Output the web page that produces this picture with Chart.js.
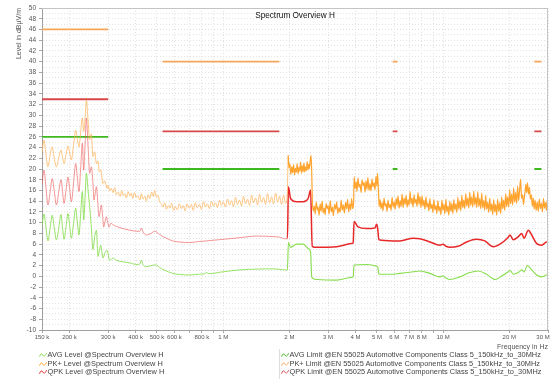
<!DOCTYPE html>
<html>
<head>
<meta charset="utf-8">
<script src="https://cdn.jsdelivr.net/npm/chart.js@4/dist/chart.umd.min.js"></script>
<style>
html,body{margin:0;padding:0;background:#fff;}
#wrap{position:relative;width:552px;height:387px;overflow:hidden;background:#fff;}
#c{position:absolute;left:0;top:0;}
.leg{position:absolute;font:7.4px "Liberation Sans",Arial,sans-serif;color:#444;white-space:nowrap;}
.leg div{height:8.6px;line-height:8.6px;display:flex;align-items:center;}
.leg svg{margin-right:0.5px;flex:none;}
#sep{position:absolute;left:279px;top:349px;width:1px;height:30px;background:#dedede;}
</style>
</head>
<body>
<div id="wrap">
  <canvas id="c" width="552" height="387"></canvas>
  <div id="legL" class="leg" style="left:39px;top:351px"></div>
  <div id="sep"></div>
  <div id="legR" class="leg" style="left:281px;top:351px"></div>
</div>
<script>
// ---- axis ticks (frequency in MHz) ----
const freqTicks = [0.15, 0.2, 0.3, 0.4, 0.5, 0.6, 0.7, 0.8, 0.9, 1, 2, 3, 4, 5, 6, 7, 8, 9, 10, 20, 30];
const freqTickLabels = ['150 k', '200 k', '300 k', '400 k', '500 k', '600 k', '', '800 k', '', '1 M',
  '2 M', '3 M', '4 M', '5 M', '6 M', '7 M', '8 M', '', '10 M', '20 M', '30 M\u2007\u2007\u2007'];

const chartTitle = 'Spectrum Overview H';
const seriesNames = [
  'AVG Level @Spectrum Overview H',
  'PK+ Level @Spectrum Overview H',
  'QPK Level @Spectrum Overview H',
  'AVG Limit @EN 55025 Automotive Components Class 5_150kHz_to_30MHz',
  'PK+ Limit @EN 55025 Automotive Components Class 5_150kHz_to_30MHz',
  'QPK Limit @EN 55025 Automotive Components Class 5_150kHz_to_30MHz'
];

// ---- limit bands (MHz) and levels (dBµV/m) ----
const limitBandsMHz = [[0.15, 0.30], [0.53, 1.8], [5.9, 6.2], [26, 28]];
const avgLimit = [26, 20, 20, 20];
const pkLimit = [46, 40, 40, 40];
const qpkLimit = [33, 27, 27, 27];

// ---- measured levels: [frequency MHz, level dBµV/m] ----
const avgLevel = [
  [0.1500, 9.6], [0.1532, 11.6], [0.1560, 9.4], [0.1597, 6.6], [0.1632, 8.9], [0.1669, 11.4], [0.1705, 9.1],
  [0.1744, 6.8], [0.1788, 9.0], [0.1831, 11.5], [0.1860, 9.1], [0.1889, 6.9], [0.1930, 9.3], [0.1968, 11.7],
  [0.2005, 9.4], [0.2040, 7.1], [0.2088, 9.9], [0.2134, 12.7], [0.2172, 10.1], [0.2209, 7.7], [0.2250, 11.8],
  [0.2289, 15.8], [0.2321, 10.5], [0.2355, 14.8], [0.2388, 19.2], [0.2430, 16.0], [0.2471, 13.0], [0.2516, 9.0],
  [0.2558, 5.0], [0.2604, 7.4], [0.2651, 8.6], [0.2696, 3.7], [0.2733, 4.8], [0.2773, 5.8], [0.2841, 3.4],
  [0.2892, 4.2], [0.2963, 4.9], [0.3047, 3.0], [0.3155, 3.4], [0.3269, 3.0], [0.3503, 2.7], [0.3756, 2.5],
  [0.4050, 2.2], [0.4180, 2.3], [0.4246, 3.0], [0.4318, 2.2], [0.4474, 1.8], [0.4700, 2.0], [0.4881, 2.1],
  [0.4969, 2.1], [0.5143, 1.6], [0.5325, 1.3], [0.5518, 1.0], [0.5894, 0.55], [0.6323, 0.35], [0.702, 0.25],
  [0.781, 0.4], [0.820, 0.45], [0.838, 0.7], [0.860, 0.5], [1.0, 0.85], [1.191, 1.2], [1.419, 1.35],
  [1.630, 1.4], [1.811, 1.3], [1.908, 1.2], [1.960, 1.2], [1.980, 6.3], [2.025, 5.4], [2.157, 6.0],
  [2.311, 6.0], [2.435, 5.2], [2.497, 4.5], [2.530, -0.2], [2.657, -0.6], [3.276, -0.7], [3.832, -0.2],
  [3.900, -0.1], [3.938, 2.1], [4.484, 2.2], [4.984, 1.9], [5.050, 1.7], [5.106, 0.4], [5.931, 0.4],
  [6.362, 0.55], [7.315, 0.85], [7.85, 1.0], [8.712, 0.55], [9.67, -0.1], [10.0, 0.1], [10.2, -0.2],
  [10.74, -0.6], [11.93, -0.1], [13.24, 0.7], [14.44, 1.0], [15.77, 0.4], [17.22, -0.6], [18.47, 0.05],
  [19.79, 0.85], [20.15, 1.1], [20.86, 0.4], [21.98, 0.7], [22.78, 1.2], [23.33, 0.8], [24.15, 2.0],
  [25.29, 1.2], [26.65, 0.25], [28.08, -0.1], [29.59, 0.25], [30.0, 0.3]
];

const qpkLevel = [
  [0.1500, 17.2], [0.1532, 19.8], [0.1560, 17.0], [0.1597, 13.3], [0.1632, 15.6], [0.1669, 18.2], [0.1705, 15.9],
  [0.1744, 13.3], [0.1788, 15.8], [0.1831, 18.0], [0.1860, 15.8], [0.1889, 13.6], [0.1930, 16.1], [0.1968, 18.5],
  [0.2005, 16.2], [0.2040, 13.9], [0.2088, 17.4], [0.2134, 21.0], [0.2172, 18.4], [0.2209, 15.8], [0.2250, 20.3],
  [0.2289, 24.8], [0.2321, 19.8], [0.2355, 24.6], [0.2388, 29.5], [0.2430, 24.2], [0.2471, 19.2], [0.2516, 20.4],
  [0.2558, 17.3], [0.2585, 14.2], [0.2620, 15.5], [0.2651, 16.7], [0.2690, 13.8], [0.2724, 11.1], [0.2760, 12.2],
  [0.2793, 13.3], [0.2830, 11.2], [0.2862, 9.2], [0.2900, 10.2], [0.2943, 11.1], [0.2985, 10.1], [0.3025, 9.2],
  [0.3090, 9.9], [0.3155, 9.6], [0.3269, 9.3], [0.3503, 8.9], [0.3756, 8.6], [0.4050, 8.4], [0.4180, 8.4],
  [0.4246, 9.0], [0.4318, 8.3], [0.4474, 7.7], [0.4700, 8.0], [0.4881, 8.4], [0.5143, 7.8], [0.5325, 7.4],
  [0.5518, 7.1], [0.5894, 6.6], [0.6323, 6.4], [0.702, 6.3], [0.781, 6.5], [0.838, 6.6], [1.0, 6.9],
  [1.191, 7.2], [1.419, 7.5], [1.688, 7.4], [1.811, 7.3], [1.908, 7.0], [1.960, 7.0], [1.980, 16.7],
  [2.025, 14.5], [2.157, 13.9], [2.311, 13.9], [2.435, 14.5], [2.497, 16.1], [2.540, 5.6], [2.657, 5.4],
  [3.276, 5.5], [3.832, 6.1], [3.900, 6.2], [3.938, 10.2], [4.106, 9.2], [4.484, 8.9], [4.896, 9.0],
  [4.984, 9.7], [5.040, 9.0], [5.106, 6.8], [5.931, 6.6], [6.362, 6.6], [7.315, 7.1], [7.85, 7.0],
  [8.712, 6.4], [9.67, 5.8], [10.0, 6.0], [10.3, 5.6], [10.74, 5.4], [11.71, 5.6], [12.79, 6.4],
  [14.2, 6.9], [15.49, 6.6], [16.91, 5.5], [18.14, 6.0], [19.79, 7.3], [20.15, 7.7], [20.86, 6.8],
  [21.98, 7.4], [22.78, 8.0], [23.33, 7.1], [24.41, 8.6], [25.29, 7.7], [26.65, 6.1], [28.08, 5.8],
  [29.59, 6.4], [30.0, 6.3]
];

const pkLevel = [
  [0.1500, 23.2], [0.1532, 25.4], [0.1560, 23.0], [0.1597, 20.4], [0.1632, 22.6], [0.1669, 24.1], [0.1705, 22.0],
  [0.1744, 20.4], [0.1788, 22.1], [0.1831, 23.5], [0.1860, 22.2], [0.1889, 21.0], [0.1930, 22.7], [0.1968, 24.3],
  [0.2005, 23.0], [0.2040, 21.7], [0.2088, 24.5], [0.2134, 27.2], [0.2172, 25.5], [0.2209, 24.1], [0.2250, 27.0],
  [0.2289, 29.5], [0.2321, 27.0], [0.2355, 29.5], [0.2388, 32.8], [0.2430, 29.0], [0.2471, 25.5], [0.2516, 26.5],
  [0.2558, 22.3], [0.2604, 23.2], [0.2651, 21.0], [0.2696, 21.5], [0.2733, 19.5], [0.2773, 19.8], [0.2841, 17.3],
  [0.2892, 17.8], [0.2963, 16.4], [0.3000, 17.0], [0.3047, 15.9], [0.3100, 16.4], [0.3155, 15.6], [0.3210, 16.5],
  [0.3269, 15.2], [0.3330, 15.7], [0.3400, 14.9], [0.3460, 16.0], [0.3503, 15.1], [0.3570, 15.4], [0.3630, 14.6],
  [0.3700, 15.8], [0.3756, 15.0], [0.3820, 15.5], [0.3876, 14.5], [0.3950, 15.6], [0.4020, 14.7], [0.4100, 15.0],
  [0.4180, 14.2], [0.4246, 15.4], [0.4318, 14.4], [0.4400, 14.9], [0.4474, 14.0], [0.4560, 15.2], [0.4640, 14.5],
  [0.4730, 15.7], [0.4810, 14.9], [0.4881, 16.0], [0.4969, 14.8], [0.5050, 15.1], [0.5143, 13.9], [0.5230, 13.5],
  [0.5325, 12.9], [0.5420, 13.7], [0.5518, 12.5], [0.5620, 13.2], [0.5730, 12.7], [0.5830, 13.6], [0.5950, 12.3],
  [0.6050, 13.0], [0.6180, 12.4], [0.6323, 13.5], [0.6450, 12.6], [0.6580, 13.2], [0.6720, 12.2], [0.6850, 13.5],
  [0.7020, 12.7], [0.7160, 13.4], [0.7310, 12.3], [0.7460, 13.7], [0.7620, 12.8], [0.7810, 13.4], [0.7970, 12.5],
  [0.8140, 13.9], [0.8310, 12.9], [0.8480, 13.5], [0.8660, 12.6], [0.8850, 14.0], [0.9040, 13.1], [0.9230, 13.7],
  [0.9420, 12.8], [0.9620, 14.2], [0.9820, 13.2], [1.003, 13.9], [1.024, 12.9], [1.046, 14.4], [1.068, 13.3],
  [1.091, 14.1], [1.114, 13.0], [1.138, 14.7], [1.162, 13.4], [1.187, 14.2], [1.212, 13.1], [1.238, 14.9],
  [1.264, 13.5], [1.291, 14.4], [1.318, 13.2], [1.346, 15.1], [1.375, 13.7], [1.404, 14.6], [1.434, 13.3],
  [1.464, 15.3], [1.495, 13.8], [1.527, 14.7], [1.559, 13.4], [1.592, 15.4], [1.626, 13.7], [1.660, 14.8],
  [1.695, 13.5], [1.731, 15.5], [1.768, 13.8], [1.805, 14.9], [1.843, 13.4], [1.882, 15.1], [1.922, 13.6],
  [1.955, 14.6], [1.975, 22.6], [1.990, 20.2], [2.010, 21.0], [2.030, 19.0], [2.050, 20.4], [2.070, 19.3],
  [2.090, 20.8], [2.110, 18.9], [2.130, 20.1], [2.150, 19.4], [2.170, 21.0], [2.190, 19.1], [2.210, 20.3],
  [2.230, 19.6], [2.250, 21.3], [2.270, 19.2], [2.290, 20.6], [2.310, 19.5], [2.330, 21.1], [2.350, 19.4],
  [2.370, 20.4], [2.390, 19.7], [2.410, 21.4], [2.430, 19.8], [2.450, 20.9], [2.470, 20.1], [2.490, 21.8],
  [2.510, 22.5], [2.525, 20.0], [2.545, 13.8], [2.570, 12.2], [2.600, 13.1], [2.620, 11.6], [2.650, 13.9],
  [2.680, 12.4], [2.700, 12.9], [2.730, 11.4], [2.760, 13.5], [2.790, 12.1], [2.820, 14.0], [2.850, 11.8],
  [2.880, 12.7], [2.910, 11.5], [2.940, 13.6], [2.970, 12.6], [3.000, 13.2], [3.030, 11.6], [3.070, 14.1],
  [3.100, 12.0], [3.140, 12.9], [3.170, 11.3], [3.210, 13.4], [3.250, 12.5], [3.280, 13.9], [3.320, 11.7],
  [3.360, 12.8], [3.400, 11.9], [3.440, 14.2], [3.480, 12.3], [3.520, 13.3], [3.560, 11.8], [3.600, 13.8],
  [3.640, 12.6], [3.680, 14.3], [3.720, 12.0], [3.760, 13.5], [3.800, 12.4], [3.840, 14.5], [3.880, 12.6],
  [3.920, 13.9], [3.940, 18.6], [3.980, 16.4], [4.020, 17.6], [4.060, 15.8], [4.100, 18.3], [4.150, 16.6],
  [4.190, 17.2], [4.240, 15.6], [4.280, 18.0], [4.330, 16.9], [4.370, 17.5], [4.420, 15.7], [4.460, 17.8],
  [4.510, 16.2], [4.550, 18.4], [4.600, 16.0], [4.650, 17.3], [4.700, 15.9], [4.750, 18.1], [4.800, 16.7],
  [4.850, 17.4], [4.900, 16.1], [4.950, 18.6], [5.000, 16.8], [5.030, 19.2], [5.080, 16.3], [5.120, 13.0],
  [5.170, 14.3], [5.220, 12.6], [5.280, 13.8], [5.330, 12.2], [5.390, 14.6], [5.440, 13.1], [5.500, 13.6],
  [5.560, 12.1], [5.620, 14.2], [5.680, 12.8], [5.740, 13.4], [5.800, 12.3], [5.860, 14.7], [5.930, 12.9],
  [5.990, 13.9], [6.050, 12.5], [6.120, 14.5], [6.180, 13.2], [6.240, 15.0], [6.310, 12.7], [6.380, 14.1],
  [6.440, 13.0], [6.510, 15.3], [6.580, 12.8], [6.650, 14.6], [6.720, 13.4], [6.790, 15.1], [6.860, 12.9],
  [6.930, 14.3], [7.000, 13.2], [7.080, 15.8], [7.150, 13.5], [7.230, 14.6], [7.300, 12.9], [7.380, 15.2],
  [7.450, 13.6], [7.530, 14.4], [7.610, 13.0], [7.690, 15.6], [7.770, 13.4], [7.850, 14.9], [7.930, 12.8],
  [8.020, 15.0], [8.100, 13.1], [8.180, 14.2], [8.270, 12.5], [8.360, 14.8], [8.440, 12.9], [8.530, 13.7],
  [8.620, 12.2], [8.710, 14.5], [8.800, 12.6], [8.900, 13.4], [8.990, 11.9], [9.080, 14.3], [9.180, 12.4],
  [9.280, 13.2], [9.370, 11.7], [9.470, 14.1], [9.570, 12.2], [9.670, 13.0], [9.770, 11.5], [9.880, 14.2],
  [9.980, 12.3], [10.09, 13.4], [10.19, 11.6], [10.30, 14.4], [10.40, 12.0], [10.51, 13.1], [10.62, 11.4],
  [10.73, 14.0], [10.85, 12.1], [10.96, 13.6], [11.08, 11.7], [11.19, 14.3], [11.31, 12.4], [11.43, 13.5],
  [11.55, 11.9], [11.67, 14.7], [11.79, 12.5], [11.92, 14.0], [12.04, 12.2], [12.17, 15.1], [12.29, 12.8],
  [12.42, 14.2], [12.55, 12.6], [12.68, 15.4], [12.82, 13.1], [12.95, 14.6], [13.09, 12.7], [13.22, 15.7],
  [13.36, 13.2], [13.50, 14.8], [13.65, 12.9], [13.79, 15.9], [13.93, 13.3], [14.08, 14.7], [14.23, 12.8],
  [14.38, 15.8], [14.53, 13.0], [14.68, 14.5], [14.84, 12.6], [14.99, 15.5], [15.15, 12.8], [15.31, 14.1],
  [15.47, 12.3], [15.63, 15.1], [15.79, 12.5], [15.96, 13.8], [16.13, 11.9], [16.30, 14.6], [16.47, 12.2],
  [16.64, 13.5], [16.81, 11.5], [16.99, 14.3], [17.17, 12.0], [17.35, 13.4], [17.53, 11.4], [17.71, 14.4],
  [17.90, 12.1], [18.09, 13.7], [18.28, 11.7], [18.47, 14.8], [18.66, 12.6], [18.86, 14.2], [19.06, 12.3],
  [19.26, 15.4], [19.46, 13.0], [19.66, 14.8], [19.87, 12.9], [20.08, 16.1], [20.29, 13.5], [20.50, 15.3],
  [20.72, 13.3], [20.94, 16.5], [21.15, 13.8], [21.38, 15.6], [21.60, 13.6], [21.83, 16.8], [22.05, 14.1],
  [22.28, 16.0], [22.52, 18.1], [22.75, 14.5], [22.99, 15.2], [23.20, 13.4], [23.40, 14.6], [23.60, 15.8],
  [23.80, 17.1], [24.00, 15.6], [24.20, 17.4], [24.45, 15.3], [24.70, 16.6], [24.95, 14.4], [25.20, 15.2],
  [25.45, 13.1], [25.70, 14.6], [25.95, 12.5], [26.20, 14.2], [26.50, 12.3], [26.80, 13.9], [27.10, 12.1],
  [27.40, 14.4], [27.70, 12.6], [28.00, 13.6], [28.30, 12.0], [28.60, 14.5], [28.90, 12.7], [29.20, 13.8],
  [29.50, 12.3], [29.80, 14.3], [30.00, 13.4]
];

// ---- styling ----
const FONT = '"Liberation Sans", Arial, sans-serif';
Chart.defaults.font.family = FONT;

const colors = {
  avg: '#86DD4C', pk: '#FFA42E', qpk: '#E82828',
  avgLim: '#3DB81E', pkLim: '#F5A65B', qpkLim: '#D94848'
};
const SPLIT_MHZ = 1.96;  // traces drawn lighter below this frequency

const toXY = arr => arr.map(([f, v]) => ({ x: f, y: v }));
function bandPoints(levels) {
  const pts = [];
  limitBandsMHz.forEach(([a, b], i) => {
    pts.push({ x: a, y: levels[i] }, { x: b, y: levels[i] }, { x: b, y: null });
  });
  return pts;
}
function trace(label, data, color, pale, wLow, wHigh) {
  return {
    label, data: toXY(data), borderColor: color, showLine: true, pointRadius: 0,
    borderWidth: wHigh, cubicInterpolationMode: 'monotone',
    segment: {
      borderColor: c => (c.p0.parsed.x < SPLIT_MHZ ? pale : color),
      borderWidth: c => (c.p0.parsed.x < SPLIT_MHZ ? wLow : wHigh)
    }
  };
}
function limit(label, levels, color) {
  return { label, data: bandPoints(levels), borderColor: color, showLine: true, pointRadius: 0,
    borderWidth: 1.8, spanGaps: false };
}

const innerTitle = {
  id: 'innerTitle',
  afterDraw(chart) {
    const { ctx, chartArea: a } = chart;
    ctx.save();
    // frame: top and right edges
    ctx.strokeStyle = '#c4c4c4';
    ctx.lineWidth = 1;
    ctx.beginPath();
    ctx.moveTo(a.left, a.top + 0.5);
    ctx.lineTo(a.right - 0.5, a.top + 0.5);
    ctx.lineTo(a.right - 0.5, a.bottom);
    ctx.stroke();
    ctx.font = '8.2px ' + FONT;
    ctx.fillStyle = '#111';
    ctx.textAlign = 'center';
    ctx.textBaseline = 'middle';
    ctx.fillText(chartTitle, (a.left + a.right) / 2, a.top + 7.5);
    ctx.restore();
  }
};

const chart = new Chart(document.getElementById('c'), {
  type: 'scatter',
  data: {
    datasets: [
      trace(seriesNames[0], avgLevel, colors.avg, 'rgba(134,221,76,0.85)', 1, 1.1),
      trace(seriesNames[1], pkLevel, colors.pk, 'rgba(255,175,80,0.7)', 1, 1.2),
      trace(seriesNames[2], qpkLevel, colors.qpk, 'rgba(236,80,80,0.6)', 1, 1.5),
      limit(seriesNames[3], avgLimit, colors.avgLim),
      limit(seriesNames[4], pkLimit, colors.pkLim),
      limit(seriesNames[5], qpkLimit, colors.qpkLim)
    ]
  },
  options: {
    responsive: false,
    animation: false,
    layout: { padding: { left: 0, right: 4, top: 8, bottom: 35 } },
    plugins: { legend: { display: false }, tooltip: { enabled: false }, title: { display: false } },
    scales: {
      x: {
        type: 'logarithmic', min: 0.15, max: 30,
        afterBuildTicks: s => { s.ticks = freqTicks.map(v => ({ value: v })); },
        afterFit: s => { s.paddingLeft = 0; s.paddingRight = 0; s.height = 22; },
        grid: { color: '#e2e2e2', lineWidth: 1, tickLength: 3, tickColor: '#a8a8a8', tickBorderDash: [] },
        border: { display: true, color: '#a0a0a0', width: 1, dash: [1, 2] },
        ticks: {
          autoSkip: false, maxRotation: 0, minRotation: 0, padding: 1, color: '#555',
          font: { size: 6 }, callback: (v, i) => freqTickLabels[i]
        },
        title: { display: true, text: 'Frequency in Hz', align: 'end', color: '#555',
          font: { size: 7 }, padding: { top: 0, bottom: 1 } }
      },
      y: {
        min: -10, max: 50,
        afterFit: s => { s.width = 42; s.paddingTop = 0; s.paddingBottom = 0; },
        grid: { color: '#e2e2e2', lineWidth: 1, tickLength: 3, tickBorderDash: [],
          tickColor: c => (c.tick && c.tick.value % 2 === 0 ? '#a8a8a8' : 'rgba(0,0,0,0)') },
        border: { display: true, color: '#a0a0a0', width: 1, dash: [1, 2] },
        ticks: { stepSize: 1, autoSkip: false, padding: 3, color: '#555', font: { size: 6.5 },
          callback: v => (v % 2 === 0 ? String(v) : '') },
        title: { display: true, text: 'Level in dBµV/m', align: 'end', color: '#555',
          font: { size: 7 }, padding: { top: 15 } }
      }
    }
  },
  plugins: [innerTitle]
});

// ---- legend (two columns built from the datasets) ----
function waveIcon(color) {
  return '<svg width="8" height="6" viewBox="0 0 8 6"><path d="M0.5,4.8 Q2,0 3.8,3 T7.6,1.2" fill="none" stroke="' +
    color + '" stroke-width="0.9"/></svg>';
}
const ds = chart.data.datasets;
const legL = document.getElementById('legL');
const legR = document.getElementById('legR');
ds.forEach((d, i) => {
  const row = document.createElement('div');
  row.innerHTML = waveIcon(d.borderColor) + '<span></span>';
  row.querySelector('span').textContent = d.label;
  (i < 3 ? legL : legR).appendChild(row);
});
</script>
</body>
</html>
